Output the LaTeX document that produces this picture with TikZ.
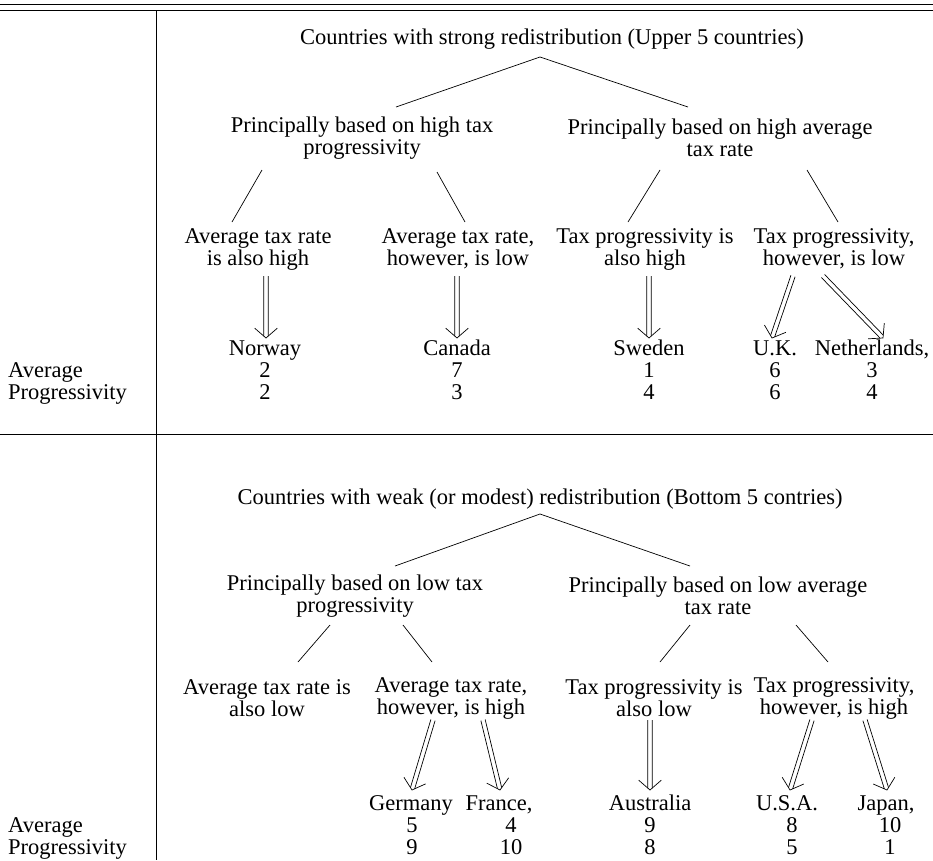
\documentclass[tikz,border=0pt]{standalone}
\usepackage{fontspec}
\setmainfont{Liberation Serif}
\usetikzlibrary{calc}
% double-shafted arrow with an open V head, from coordinate #1 to coordinate #2
\newcommand\DblArr[2]{%
  \draw[edge] ($(#1)!2.2pt!90:(#2)$) -- ($(#2)!2.9pt!-49:(#1)$);
  \draw[edge] ($(#1)!2.2pt!-90:(#2)$) -- ($(#2)!2.9pt!49:(#1)$);
  \draw[edge, line join=miter] ($(#2)!15pt!49:(#1)$) -- (#2) -- ($(#2)!15pt!-49:(#1)$);}
\begin{document}
\begin{tikzpicture}[x=1pt,y=-1pt,
  txt/.style={inner sep=0pt, font=\fontsize{22.5}{22}\selectfont},
  lab/.style={txt, anchor=base},
  two/.style={txt, align=center},
  edge/.style={line width=0.7pt},
  rule/.style={line width=0.8pt}]
\useasboundingbox (0,0) rectangle (933,860);
% rules
\coordinate (r1a) at (0,4); \coordinate (r1b) at (933,4);
\coordinate (r2a) at (0,10); \coordinate (r2b) at (933,10);
\coordinate (va) at (156,10); \coordinate (vb) at (156,860);
\coordinate (sa) at (0,434); \coordinate (sb) at (933,434);
\draw[rule] (r1a) -- (r1b);
\draw[rule] (r2a) -- (r2b);
\draw[edge] (va) -- (vb);
\draw[edge] (sa) -- (sb);

% ---------- top section ----------
\node[lab] (TA) at (552,44) {Countries with strong redistribution (Upper 5 countries)};
\node[two] (A1) at (362,138) {Principally based on high tax\\progressivity};
\node[two] (A2) at (720,138) {Principally based on high average\\tax rate};
\node[two] (B1) at (258,249) {Average tax rate\\is also high};
\node[two] (B2) at (458,249) {Average tax rate,\\however, is low};
\node[two] (B3) at (645,249) {Tax progressivity is\\also high};
\node[two] (B4) at (834,249) {Tax progressivity,\\however, is low};

\node[lab] (NO) at (265,355) {Norway};
\node[lab] (CA) at (457,355) {Canada};
\node[lab] (SE) at (649,355) {Sweden};
\node[lab] (UK) at (775,355) {U.K.};
\node[lab] (NL) at (872,355) {Netherlands,};
\node[lab] (NOa) at (265,377) {2};
\node[lab] (NOp) at (265,399) {2};
\node[lab] (CAa) at (457,377) {7};
\node[lab] (CAp) at (457,399) {3};
\node[lab] (SEa) at (649,377) {1};
\node[lab] (SEp) at (649,399) {4};
\node[lab] (UKa) at (775,377) {6};
\node[lab] (UKp) at (775,399) {6};
\node[lab] (NLa) at (872,377) {3};
\node[lab] (NLp) at (872,399) {4};
\node[txt, anchor=base west] (avA) at (8,377) {Average};
\node[txt, anchor=base west] (prA) at (8,399) {Progressivity};

\draw[edge] ($(TA.base)+(-12,13)$) -- ($(A1)+(34,-31)$);
\draw[edge] ($(TA.base)+(-12,13)$) -- ($(A2)+(-32,-31)$);
\draw[edge] ($(A1)+(-100,32)$) -- ($(B1)+(-26,-27)$);
\draw[edge] ($(A1)+(75,34)$) -- ($(B2)+(7,-27)$);
\draw[edge] ($(A2)+(-60,32)$) -- ($(B3)+(-17,-27)$);
\draw[edge] ($(A2)+(87,32)$) -- ($(B4)+(4,-27)$);

\coordinate (sNO) at ($(B1)+(8,27)$);   \coordinate (tNO) at ($(NO.base)+(1,-17)$);
\coordinate (sCA) at ($(B2)+(-1,27)$);  \coordinate (tCA) at ($(CA.base)+(0,-17)$);
\coordinate (sSE) at ($(B3)+(4,27)$);   \coordinate (tSE) at ($(SE.base)+(0,-17)$);
\coordinate (sUK) at ($(B4)+(-41,27)$); \coordinate (tUK) at ($(UK.base)+(-3,-17)$);
\coordinate (sNL) at ($(B4)+(-11,27)$); \coordinate (tNL) at ($(NL.base)+(11,-17)$);
\DblArr{sNO}{tNO}
\DblArr{sCA}{tCA}
\DblArr{sSE}{tSE}
\DblArr{sUK}{tUK}
\DblArr{sNL}{tNL}

% ---------- bottom section ----------
\node[lab] (TB) at (540,504) {Countries with weak (or modest) redistribution (Bottom 5 contries)};
\node[two] (C1) at (355,596) {Principally based on low tax\\progressivity};
\node[two] (C2) at (718,596) {Principally based on low average\\tax rate};
\node[two] (D1) at (267,698) {Average tax rate is\\also low};
\node[two] (D2) at (451,698) {Average tax rate,\\however, is high};
\node[two] (D3) at (654,698) {Tax progressivity is\\also low};
\node[two] (D4) at (834,698) {Tax progressivity,\\however, is high};

\node[lab] (DE) at (411,810) {Germany};
\node[lab] (FR) at (499,810) {France,};
\node[lab] (AU) at (650,810) {Australia};
\node[lab] (US) at (787,810) {U.S.A.};
\node[lab] (JP) at (886,810) {Japan,};
\node[lab] (DEa) at (412,832) {5};
\node[lab] (DEp) at (412,854) {9};
\node[lab] (FRa) at (511,832) {4};
\node[lab] (FRp) at (511,854) {10};
\node[lab] (AUa) at (650,832) {9};
\node[lab] (AUp) at (650,854) {8};
\node[lab] (USa) at (792,832) {8};
\node[lab] (USp) at (792,854) {5};
\node[lab] (JPa) at (890,832) {10};
\node[lab] (JPp) at (890,854) {1};
\node[txt, anchor=base west] (avB) at (8,832) {Average};
\node[txt, anchor=base west] (prB) at (8,854) {Progressivity};

\draw[edge] ($(TB.base)+(0,10)$) -- ($(C1)+(40,-30)$);
\draw[edge] ($(TB.base)+(0,10)$) -- ($(C2)+(-28,-30)$);
\draw[edge] ($(C1)+(-25,29)$) -- ($(D1)+(31,-36)$);
\draw[edge] ($(C1)+(48,29)$) -- ($(D2)+(-19,-36)$);
\draw[edge] ($(C2)+(-28,29)$) -- ($(D3)+(6,-36)$);
\draw[edge] ($(C2)+(78,29)$) -- ($(D4)+(-6,-36)$);

\coordinate (sDE) at ($(D2)+(-18,22)$); \coordinate (tDE) at ($(DE.base)+(1,-20)$);
\coordinate (sFR) at ($(D2)+(32,22)$);  \coordinate (tFR) at ($(FR.base)+(1,-20)$);
\coordinate (sAU) at ($(D3)+(-4,22)$);  \coordinate (tAU) at ($(AU.base)+(0,-20)$);
\coordinate (sUS) at ($(D4)+(-22,22)$); \coordinate (tUS) at ($(US.base)+(3,-20)$);
\coordinate (sJP) at ($(D4)+(31,22)$);  \coordinate (tJP) at ($(JP.base)+(1,-20)$);
\DblArr{sDE}{tDE}
\DblArr{sFR}{tFR}
\DblArr{sAU}{tAU}
\DblArr{sUS}{tUS}
\DblArr{sJP}{tJP}
\end{tikzpicture}
\end{document}
